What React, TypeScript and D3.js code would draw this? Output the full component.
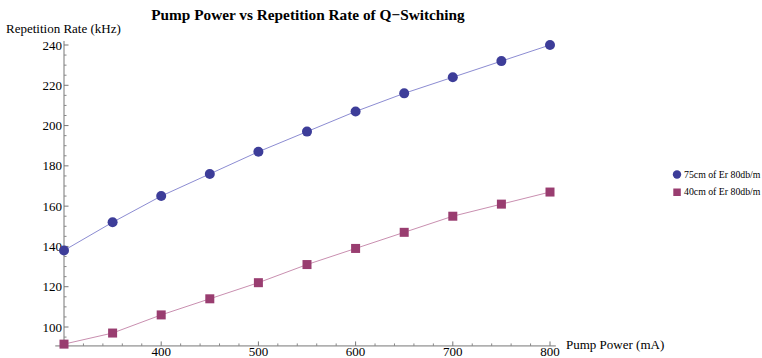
import React, { useRef, useEffect } from 'react';
import * as d3 from 'd3';

const pumpPower = [300, 350, 400, 450, 500, 550, 600, 650, 700, 750, 800];
const rate75cm = [138, 152, 165, 176, 187, 197, 207, 216, 224, 232, 240];
const rate40cm = [91.5, 97, 106, 114, 122, 131, 139, 147, 155, 161, 167];
const xTicks = [400, 500, 600, 700, 800];
const yTicks = [100, 120, 140, 160, 180, 200, 220, 240];
const seriesNames = ['75cm of Er 80db/m', '40cm of Er 80db/m'];

const width = 762;
const height = 358;

const App = () => {
  const svgRef = useRef<SVGSVGElement>(null);

  useEffect(() => {
    const svg = d3.select(svgRef.current);
    svg.selectAll('*').remove(); // clear before redraw

    const x = d3.scaleLinear().domain([300, 800]).range([64, 550]);
    const y = d3.scaleLinear().domain([100, 240]).range([327, 45]);

    const axisY = y(90.6);
    const axisX = x(300);

    // axes lines
    svg.append('line')
      .attr('x1', x(291)).attr('x2', x(806))
      .attr('y1', axisY).attr('y2', axisY)
      .attr('stroke', '#777').attr('stroke-width', 1);
    svg.append('line')
      .attr('x1', axisX).attr('x2', axisX)
      .attr('y1', axisY).attr('y2', y(242))
      .attr('stroke', '#777').attr('stroke-width', 1);

    // x ticks (major every 100, minor every 20)
    const xMinor = d3.range(300, 801, 20).filter(v => v % 100 !== 0);
    svg.append('g').selectAll('line').data(xMinor).enter().append('line')
      .attr('x1', d => x(d)).attr('x2', d => x(d))
      .attr('y1', axisY).attr('y2', axisY - 2.5)
      .attr('stroke', '#888');
    svg.append('g').selectAll('line').data(xTicks).enter().append('line')
      .attr('x1', d => x(d)).attr('x2', d => x(d))
      .attr('y1', axisY).attr('y2', axisY - 4.5)
      .attr('stroke', '#777');
    svg.append('g').selectAll('text').data(xTicks).enter().append('text')
      .attr('x', d => x(d)).attr('y', axisY + 10)
      .attr('text-anchor', 'middle')
      .attr('font-size', 13)
      .text(d => d);

    // y ticks (major every 20, minor every 5)
    const yMinor = d3.range(95, 241, 5).filter(v => v % 20 !== 0);
    svg.append('g').selectAll('line').data(yMinor).enter().append('line')
      .attr('x1', axisX).attr('x2', axisX + 2.5)
      .attr('y1', d => y(d)).attr('y2', d => y(d))
      .attr('stroke', '#888');
    svg.append('g').selectAll('line').data(yTicks).enter().append('line')
      .attr('x1', axisX).attr('x2', axisX + 4.5)
      .attr('y1', d => y(d)).attr('y2', d => y(d))
      .attr('stroke', '#777');
    svg.append('g').selectAll('text').data(yTicks).enter().append('text')
      .attr('x', axisX - 2).attr('y', d => y(d) + 4.5)
      .attr('text-anchor', 'end')
      .attr('font-size', 13)
      .text(d => d);

    // titles
    svg.append('text')
      .attr('x', 308).attr('y', 19.5)
      .attr('text-anchor', 'middle')
      .attr('font-size', 15.3).attr('font-weight', 'bold')
      .text('Pump Power vs Repetition Rate of Q\u2212Switching');
    svg.append('text')
      .attr('x', 6).attr('y', 33)
      .attr('font-size', 13)
      .text('Repetition Rate (kHz)');
    svg.append('text')
      .attr('x', 566).attr('y', 349)
      .attr('font-size', 13)
      .text('Pump Power (mA)');

    const line = d3.line<number>()
      .x((d, i) => x(pumpPower[i]))
      .y(d => y(d));

    // series 1: circles
    svg.append('path')
      .attr('d', line(rate75cm))
      .attr('fill', 'none').attr('stroke', '#8c8cd2').attr('stroke-width', 1);
    svg.append('g').selectAll('circle').data(rate75cm).enter().append('circle')
      .attr('cx', (d, i) => x(pumpPower[i])).attr('cy', d => y(d))
      .attr('r', 5).attr('fill', '#3d3d99');

    // series 2: squares
    svg.append('path')
      .attr('d', line(rate40cm))
      .attr('fill', 'none').attr('stroke', '#c98fb0').attr('stroke-width', 1);
    svg.append('g').selectAll('rect').data(rate40cm).enter().append('rect')
      .attr('x', (d, i) => x(pumpPower[i]) - 4.5).attr('y', d => y(d) - 4.5)
      .attr('width', 9).attr('height', 9).attr('fill', '#993d70');

    // legend
    const legend = svg.append('g');
    legend.append('circle').attr('cx', 677).attr('cy', 174.5).attr('r', 4.2).attr('fill', '#3d3d99');
    legend.append('rect').attr('x', 673.3).attr('y', 188.5).attr('width', 7.5).attr('height', 7.5).attr('fill', '#993d70');
    legend.selectAll('text').data(seriesNames).enter().append('text')
      .attr('x', 684).attr('y', (d, i) => 177.5 + i * 17.5)
      .attr('font-size', 9.8)
      .text(d => d);
  }, []);

  return (
    <svg
      ref={svgRef}
      width={width}
      height={height}
      fontFamily="Liberation Serif"
      style={{ position: 'absolute', left: 0, top: 0, background: '#fff' }}
    ></svg>
  );
};

export default App;
